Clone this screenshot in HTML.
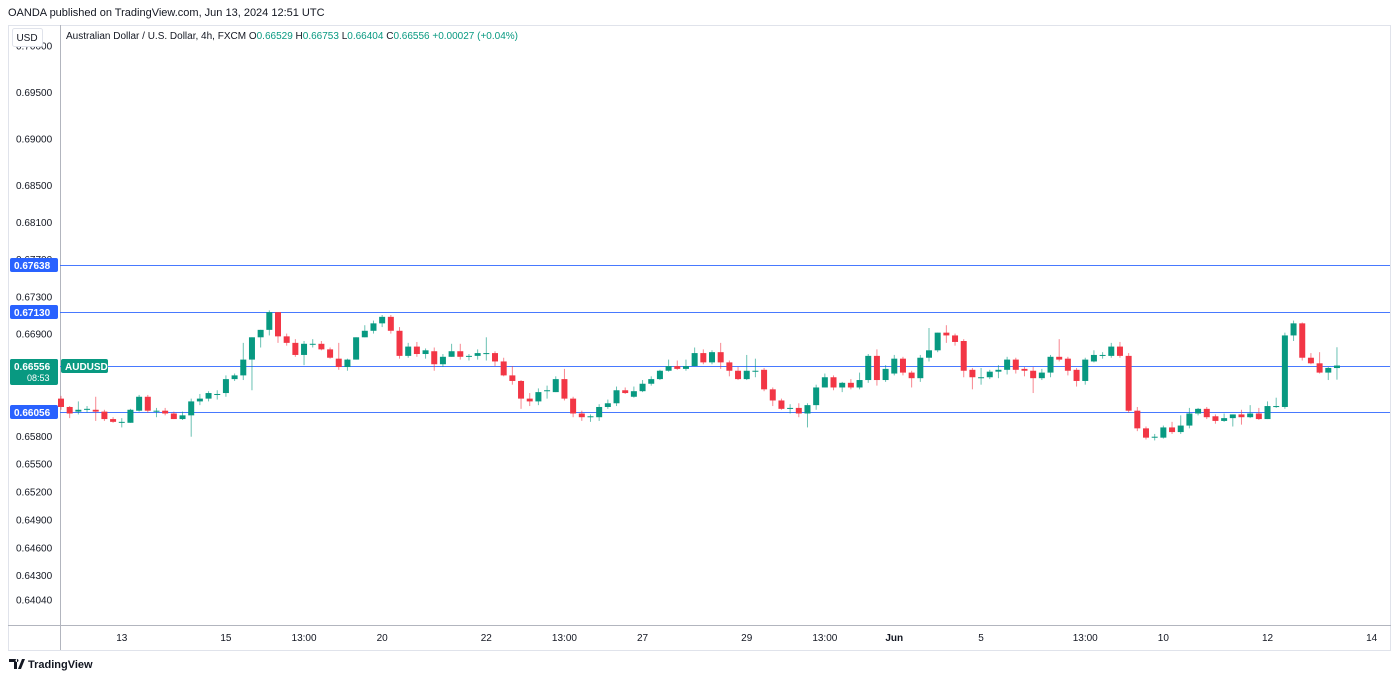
<!DOCTYPE html>
<html><head><meta charset="utf-8"><style>
html,body{margin:0;padding:0;background:#fff;width:1400px;height:679px;overflow:hidden;font-family:"Liberation Sans",sans-serif}
</style></head><body>
<svg id="c" width="1400" height="679" xmlns="http://www.w3.org/2000/svg" style="font-family:'Liberation Sans',sans-serif">
<text x="8" y="16" font-size="11" fill="#131722">OANDA published on TradingView.com, Jun 13, 2024 12:51 UTC</text>
<rect x="8.5" y="25.5" width="1382" height="625" fill="none" stroke="#e0e3eb"/>
<line x1="60.5" y1="25" x2="60.5" y2="650" stroke="#b2b5be"/>
<line x1="8" y1="625.5" x2="1391" y2="625.5" stroke="#b2b5be"/>
<g id="yticks"></g><g id="hlines"></g><g id="candles"></g><g id="xticks"></g><g id="badges"></g>
<rect x="12.5" y="28.5" width="30" height="18" rx="2" fill="#fff" stroke="#e0e3eb"/>
<text x="27" y="41" font-size="10" text-anchor="middle" fill="#131722">USD</text>
<text x="66" y="39" font-size="10" fill="#131722">Australian Dollar / U.S. Dollar, 4h, FXCM <tspan>O</tspan><tspan fill="#089981">0.66529</tspan> H<tspan fill="#089981">0.66753</tspan> L<tspan fill="#089981">0.66404</tspan> C<tspan fill="#089981">0.66556</tspan><tspan fill="#089981"> +0.00027 (+0.04%)</tspan></text>
<g>
<path d="M9 659h8v10h-3v-7h-5z M18 669l4-10h3l-4 10z M17 659a1.5 1.5 0 1 0 0.01 0" fill="#131722"/>
<text x="28" y="668" font-size="11" font-weight="bold" fill="#131722">TradingView</text>
</g>
</svg>
<script>
const opens=[.6620,.6611,.6606,.6609,.6608,.6606,.6598,.6595,.6594,.6607,.6622,.6607,.6607,.6604,.6598,.6602,.6617,.6620,.6625,.6626,.6641,.6645,.6662,.6686,.6694,.6713,.6687,.6680,.6667,.6679,.6679,.6673,.6663,.6654,.6662,.6686,.6693,.6701,.6708,.6693,.6666,.6676,.6668,.6671,.6657,.6665,.6671,.6665,.6666,.6669,.6669,.6660,.6645,.6639,.6620,.6617,.6629,.6627,.6641,.6620,.6604,.6601,.6600,.6611,.6615,.6629,.6622,.6628,.6636,.6641,.6650,.6655,.6652,.6655,.6669,.6659,.6670,.6659,.6650,.6641,.6650,.6651,.6630,.6618,.6610,.6610,.6604,.6613,.6632,.6643,.6632,.6637,.6632,.6640,.6666,.6640,.6647,.6663,.6648,.6642,.6664,.6672,.6691,.6688,.6682,.6651,.6643,.6643,.6649,.6651,.6662,.6652,.6650,.6642,.6648,.6665,.6663,.6651,.6639,.6660,.6667,.6666,.6676,.6666,.6607,.6588,.6579,.6578,.6589,.6584,.6591,.6604,.6609,.6601,.6596,.6599,.6603,.6600,.6604,.6598,.6612,.6611,.6688,.6701,.6664,.6658,.6648,.66529];
const highs=[.6623,.6612,.6617,.6612,.6622,.6608,.6600,.6599,.6609,.6624,.6624,.6610,.6610,.6606,.6606,.6620,.6625,.6628,.6629,.6645,.6647,.6680,.6686,.6694,.6715,.6713,.6690,.6684,.6682,.6684,.6682,.6675,.6680,.6663,.6686,.6699,.6704,.6710,.6710,.6697,.6680,.6681,.6674,.6675,.6668,.6679,.6679,.6668,.6673,.6686,.6671,.6664,.6655,.6640,.6626,.6631,.6634,.6644,.6652,.6622,.6607,.6603,.6614,.6619,.6633,.6632,.6633,.6640,.6644,.6651,.6662,.6661,.6662,.6675,.6673,.6672,.6680,.6661,.6654,.6667,.6663,.6653,.6632,.6620,.6614,.6615,.6615,.6635,.6647,.6645,.6638,.6641,.6648,.6668,.6673,.6656,.6667,.6665,.6650,.6667,.6696,.6691,.6699,.6690,.6684,.6653,.6653,.6651,.6656,.6665,.6664,.6654,.6654,.6652,.6667,.6684,.6665,.6653,.6664,.6672,.6670,.6680,.6681,.6669,.6611,.6590,.6582,.6591,.6595,.6602,.6610,.6610,.6611,.6603,.6604,.6603,.6608,.6613,.6610,.6617,.6621,.6691,.6704,.6702,.6669,.6670,.6654,.66753];
const lows=[.6608,.6599,.6603,.6605,.6596,.6596,.6594,.6589,.6594,.6606,.6605,.6600,.6602,.6598,.6597,.6579,.6613,.6617,.6619,.6622,.6639,.6640,.6629,.6675,.6688,.6680,.6677,.6665,.6656,.6675,.6672,.6663,.6651,.6650,.6662,.6686,.6690,.6697,.6690,.6663,.6664,.6665,.6663,.6650,.6654,.6665,.6662,.6661,.6662,.6661,.6655,.6644,.6635,.6609,.6612,.6613,.6620,.6627,.6618,.6600,.6596,.6595,.6596,.6609,.6612,.6625,.6621,.6627,.6634,.6640,.6649,.6651,.6650,.6655,.6657,.6657,.6652,.6644,.6640,.6640,.6643,.6628,.6612,.6608,.6604,.6600,.6589,.6608,.6632,.6629,.6627,.6630,.6630,.6637,.6634,.6638,.6645,.6645,.6632,.6638,.6660,.6670,.6680,.6677,.6643,.6630,.6635,.6641,.6642,.6646,.6647,.6644,.6626,.6640,.6643,.6660,.6645,.6633,.6635,.6659,.6663,.6664,.6664,.6605,.6585,.6576,.6575,.6577,.6582,.6582,.6588,.6602,.6598,.6593,.6595,.6590,.6592,.6599,.6597,.6598,.6610,.6609,.6682,.6661,.6657,.6647,.6640,.66404];
const closes=[.6611,.6604,.6608,.6609,.6606,.6598,.6595,.6595,.6608,.6622,.6607,.6607,.6604,.6598,.6602,.6617,.6620,.6626,.6625,.6641,.6645,.6662,.6686,.6694,.6713,.6687,.6680,.6667,.6679,.6679,.6673,.6664,.6654,.6662,.6686,.6693,.6701,.6708,.6693,.6666,.6676,.6668,.6672,.6657,.6665,.6671,.6665,.6666,.6669,.6669,.6660,.6645,.6639,.6620,.6617,.6627,.6629,.6641,.6620,.6604,.6600,.6601,.6611,.6615,.6629,.6626,.6628,.6636,.6641,.6650,.6655,.6652,.6655,.6669,.6659,.6670,.6659,.6650,.6641,.6650,.6650,.6630,.6618,.6609,.6610,.6604,.6613,.6632,.6643,.6632,.6637,.6632,.6640,.6666,.6640,.6652,.6663,.6648,.6642,.6664,.6672,.6691,.6688,.6681,.6650,.6643,.6643,.6649,.6651,.6662,.6651,.6650,.6642,.6648,.6665,.6662,.6650,.6639,.6662,.6667,.6667,.6676,.6666,.6607,.6588,.6578,.6579,.6589,.6584,.6591,.6604,.6609,.6600,.6596,.6599,.6603,.6600,.6604,.6598,.6612,.6612,.6688,.6701,.6664,.6658,.6648,.6653,.66556];
const yTickLabels=["0.70000","0.69500","0.69000","0.68500","0.68100","0.67700","0.67300","0.66900","0.65800","0.65500","0.65200","0.64900","0.64600","0.64300","0.64040"];
const levelPrices=[0.67638,0.67130,0.66555,0.66056];
const levelLabels=["0.67638","0.67130","0.66555","0.66056"];
const timeLabels=["13","15","13:00","20","22","13:00","27","29","13:00","Jun","5","13:00","10","12","14"];
const timeIndex=[7,19,28,37,49,58,67,79,88,96,106,118,127,139,151];
const lastPrice=0.66556;

const NS="http://www.w3.org/2000/svg";
function yScale(p){return 412-(p-0.66056)*9292;}
function xScale(i){return 61+i*8.68;}
function mk(tag,attrs,parent,txt){const e=document.createElementNS(NS,tag);for(const k in attrs)e.setAttribute(k,attrs[k]);if(txt!==undefined)e.textContent=txt;parent.appendChild(e);return e;}

const yt=document.getElementById('yticks');
yTickLabels.forEach(l=>{const y=yScale(parseFloat(l));if(y<44||y>620)return;
 const t=mk('text',{x:16,y:y+4,'font-size':10,fill:'#131722'},yt,l);
 
 
});
const hl=document.getElementById('hlines');
levelPrices.forEach(p=>{const y=Math.round(yScale(p))+0.5;
 const ln=mk('line',{x1:60,x2:1390,y1:y,y2:y,stroke:'#2962ff','stroke-width':1,opacity:0.85},hl);
 
 
});
const cg=document.getElementById('candles');
opens.forEach((o,i)=>{const c=closes[i],x=xScale(i),col=c>=o?'#089981':'#f23645';
 const g=mk('g',{},cg);
 
 
 mk('line',{x1:x,x2:x,y1:yScale(highs[i]),y2:yScale(lows[i]),stroke:col,'stroke-width':1,opacity:0.6},g);
 const top=yScale(Math.max(o,c)),bot=yScale(Math.min(o,c));
 mk('rect',{x:x-3,y:top,width:6,height:Math.max(1,bot-top),fill:col},g);
});
const xt=document.getElementById('xticks');
timeLabels.forEach((l,k)=>{const t=mk('text',{x:xScale(timeIndex[k]),y:641,'font-size':10,'text-anchor':'middle',fill:'#131722','font-weight':l==='Jun'?'bold':'normal'},xt,l);
 
 
});
const bg=document.getElementById('badges');
levelPrices.forEach((p,k)=>{const y=Math.round(yScale(p));
 const g=mk('g',{},bg);
 
 
 mk('rect',{x:10,y:y-7,width:48,height:14,rx:2,fill:'#2962ff'},g);
 mk('text',{x:14,y:y+4,'font-size':10,'font-weight':'bold',fill:'#fff'},g,levelLabels[k]);
});
const ly=Math.round(yScale(lastPrice));
const lg=mk('g',{},bg);


mk('rect',{x:10,y:ly-7,width:48,height:26,rx:2,fill:'#089981'},lg);
mk('text',{x:14,y:ly+4,'font-size':10,'font-weight':'bold',fill:'#fff'},lg,lastPrice.toFixed(5));
mk('text',{x:27,y:ly+15,'font-size':9,fill:'#fff'},lg,'08:53');
const sg=mk('g',{},bg);


mk('rect',{x:61,y:ly-7,width:47,height:14,rx:2,fill:'#089981'},sg);
mk('text',{x:65,y:ly+4,'font-size':10,'font-weight':'bold',fill:'#fff'},sg,'AUDUSD');
</script>
</body></html>
